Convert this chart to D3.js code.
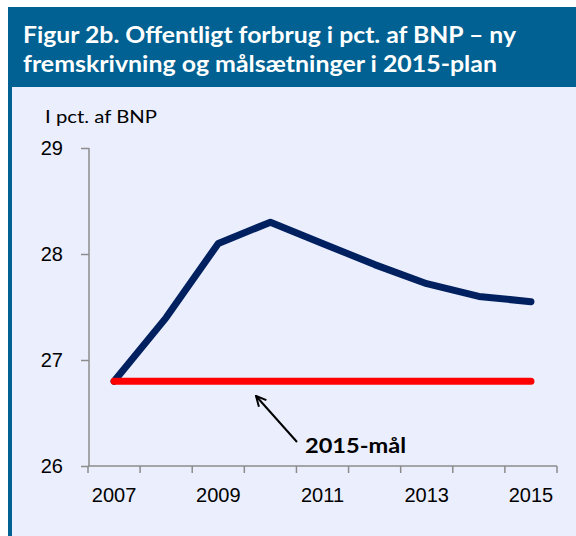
<!DOCTYPE html>
<html>
<head>
<meta charset="utf-8">
<script src="https://cdn.jsdelivr.net/npm/d3@7"></script>
<style>
  html, body { margin: 0; padding: 0; background: #ffffff; }
  svg { display: block; font-family: Lato, "Open Sans", sans-serif; }
  .axis path, .axis line { stroke: #8c8c8c; stroke-width: 1.5; }
  .axis text { fill: #000; font-size: 20px; }
</style>
</head>
<body>
<svg id="chart" width="576" height="536"></svg>
<script>
// data
var years = [2007, 2008, 2009, 2010, 2011, 2012, 2013, 2014, 2015];
var forbrug = [26.8, 27.4, 28.1, 28.3, 28.1, 27.9, 27.72, 27.6, 27.55];
var maal = [26.8, 26.8, 26.8, 26.8, 26.8, 26.8, 26.8, 26.8, 26.8];
var yTicks = [26, 27, 28, 29];
var xLabels = [2007, 2009, 2011, 2013, 2015];
var titleLines = ["Figur 2b. Offentligt forbrug i pct. af BNP \u2013 ny", "fremskrivning og m\u00e5ls\u00e6tninger i 2015-plan"];

var svg = d3.select("#chart");

// frame
svg.append("rect").attr("x", 8).attr("y", 87).attr("width", 568).attr("height", 449).attr("fill", "#ebeefd");
svg.append("rect").attr("x", 8).attr("y", 87).attr("width", 4).attr("height", 449).attr("fill", "#006192");
svg.append("rect").attr("x", 8).attr("y", 7).attr("width", 568).attr("height", 80).attr("fill", "#006192");

svg.selectAll(".title")
    .data(titleLines)
    .enter().append("text")
    .attr("class", "title")
    .attr("x", 23)
    .attr("y", function (d, i) { return 43 + i * 29; })
    .attr("fill", "#fff")
    .attr("font-size", "22px")
    .attr("font-weight", "bold")
    .attr("textLength", function (d, i) { return i === 0 ? 493 : 474; })
    .attr("lengthAdjust", "spacingAndGlyphs")
    .text(function (d) { return d; });

svg.append("text")
    .attr("x", 45).attr("y", 123)
    .attr("font-size", "18px")
    .attr("textLength", 112)
    .attr("lengthAdjust", "spacingAndGlyphs")
    .text("I pct. af BNP");

// scales
var x = d3.scaleBand().domain(years).range([88, 557]).padding(0);
var y = d3.scaleLinear().domain([26, 29]).range([466, 148]);
var cx = function (yr) { return x(yr) + x.bandwidth() / 2; };

// y axis
svg.append("g")
    .attr("class", "axis")
    .attr("transform", "translate(89,0)")
    .call(d3.axisLeft(y).tickValues(yTicks).tickFormat(d3.format("d")).tickSize(8).tickPadding(18).tickSizeOuter(0))
    .call(function (g) { g.select(".domain").attr("d", "M0," + y(29) + "V" + y(26)); });

// x axis: tick marks on band edges, labels every other year
var gx = svg.append("g")
    .attr("class", "axis")
    .attr("transform", "translate(0,466)")
    .call(d3.axisBottom(x).tickValues(xLabels).tickSize(0).tickPadding(22).tickFormat(d3.format("d")));
gx.select(".domain").attr("d", "M" + (x(2007)) + ",0H" + (x(2015) + x.bandwidth()));
gx.selectAll(".edge")
    .data(years.concat([null]))
    .enter().append("line")
    .attr("class", "edge")
    .attr("x1", function (d) { return d === null ? x(2015) + x.bandwidth() : x(d); })
    .attr("x2", function (d) { return d === null ? x(2015) + x.bandwidth() : x(d); })
    .attr("y1", 0).attr("y2", 7);

// lines
var line = d3.line()
    .x(function (d, i) { return cx(years[i]); })
    .y(function (d) { return y(d); });

svg.append("path")
    .datum(forbrug)
    .attr("d", line)
    .attr("fill", "none")
    .attr("stroke", "#002060")
    .attr("stroke-width", 7)
    .attr("stroke-linejoin", "round")
    .attr("stroke-linecap", "round");

svg.append("path")
    .datum(maal)
    .attr("d", line)
    .attr("fill", "none")
    .attr("stroke", "#ff0000")
    .attr("stroke-width", 7)
    .attr("stroke-linecap", "round");

// annotation
svg.append("defs").append("marker")
    .attr("id", "arr")
    .attr("viewBox", "0 0 12 12")
    .attr("refX", 11).attr("refY", 6)
    .attr("markerWidth", 12).attr("markerHeight", 12)
    .attr("markerUnits", "userSpaceOnUse")
    .attr("orient", "auto")
    .append("path")
    .attr("d", "M1,1L11,6L1,11")
    .attr("fill", "none")
    .attr("stroke", "#000")
    .attr("stroke-width", 2);

svg.append("line")
    .attr("x1", 297).attr("y1", 442)
    .attr("x2", 256).attr("y2", 396)
    .attr("stroke", "#000")
    .attr("stroke-width", 2)
    .attr("marker-end", "url(#arr)");

svg.append("text")
    .attr("x", 305).attr("y", 453)
    .attr("font-size", "21px")
    .attr("font-weight", "bold")
    .attr("textLength", 101)
    .attr("lengthAdjust", "spacingAndGlyphs")
    .text("2015-m\u00e5l");
</script>
</body>
</html>
